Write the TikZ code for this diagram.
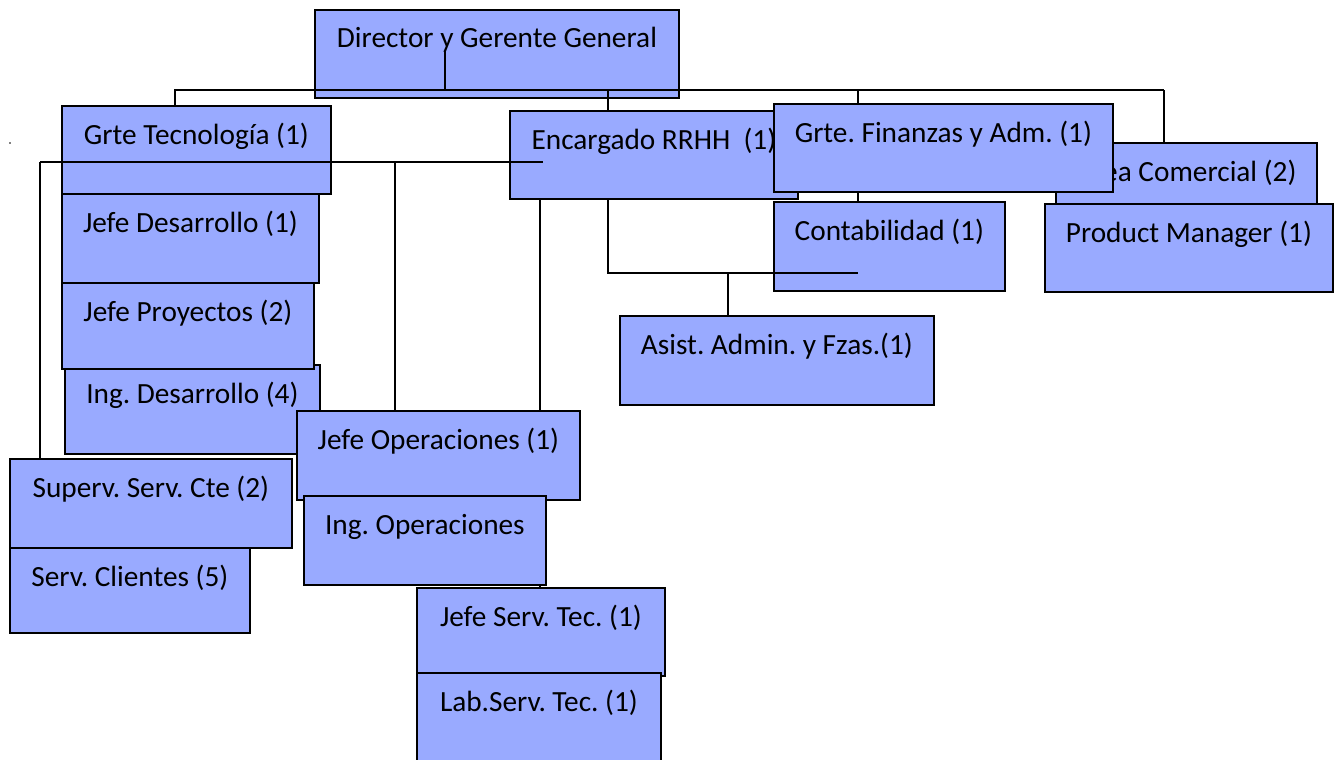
\documentclass[tikz,border=0pt]{standalone}
\usepackage{fontspec}
\setmainfont{Carlito}
\frenchspacing
\definecolor{boxfill}{RGB}{153,170,255}
\tikzset{
  box/.style={draw=black, line width=1.8pt, fill=boxfill, anchor=north west, inner sep=0pt},
  lbl/.style={font=\fontsize{29.3}{34}\selectfont, inner sep=0pt, anchor=base},
  wire/.style={line width=1.6pt, draw=black}
}
\newcommand{\orgbox}[6]{%
  \node[box, minimum width=#4pt, minimum height=#5pt] (#1) at (#2,#3) {};
  \node[lbl] (#1t) at ([yshift=-39pt]#1.north) {#6};
}
\begin{document}
\begin{tikzpicture}[x=1pt,y=-1pt]
\useasboundingbox (0,0) rectangle (1336,760);
\clip (0,0) rectangle (1336,760);
% boxes that lie under the connectors
\orgbox{dir}{314}{9}{364}{88}{Director y Gerente General}
\orgbox{gtec}{61}{105}{269}{88}{Grte Tecnología (1)}
\orgbox{rrhh}{509}{110}{288}{88}{Encargado RRHH\ \ (1)}
\orgbox{cont}{773}{201}{231}{89}{Contabilidad (1)}
% named junctions
\coordinate (dtop) at (445,50);
\coordinate (busL) at (175,90);
\coordinate (busR) at (1164,90);
\coordinate (bRR) at (608,90);
\coordinate (bGF) at (858,90);
\coordinate (tL) at (40,162);
\coordinate (tR) at (543,162);
\coordinate (tM) at (395,162);
\coordinate (rL) at (608,273);
\coordinate (rR) at (858,273);
\coordinate (rM) at (728,273);
\coordinate (xOp) at (540,0);
% connectors
\draw[wire] (dtop) -- (dtop |- busL);
\draw[wire] (gtec.north -| busL) -- (busL) -- (busR);
\draw[wire] (bRR) -- (rrhh.north -| bRR);
\draw[wire] (tL) -- (tR);
\draw[wire] (rrhh.south -| rL) -- (rL) -- (rR);
\draw[wire] (rM) -- (rM |- 0,315);
\draw[wire] (tM) -- (tM |- 0,410);
\draw[wire] (tL) -- (tL |- 0,458);
\draw[wire] (rrhh.south -| xOp) -- (xOp |- 0,587);
\draw[wire] (bGF) -- (bGF |- 0,201);
\draw[wire] (busR) -- (busR |- 0,142);
\fill (10,143) circle (0.8pt);
% boxes above the connectors
\orgbox{ides}{64}{364}{255}{89}{Ing. Desarrollo (4)}
\orgbox{jdes}{61}{193}{257}{89}{Jefe Desarrollo (1)}
\orgbox{jpro}{61}{282}{252}{86}{Jefe Proyectos (2)}
\orgbox{sup}{9}{458}{282}{89}{Superv. Serv. Cte (2)}
\orgbox{scli}{9}{547}{240}{85}{Serv. Clientes (5)}
\orgbox{jop}{296}{410}{283}{89}{Jefe Operaciones (1)}
\orgbox{iop}{303}{495}{242}{89}{Ing. Operaciones}
\orgbox{jst}{416}{587}{248}{88}{Jefe Serv. Tec. (1)}
\orgbox{lab}{416}{672}{244}{92}{Lab.Serv. Tec. (1)}
\orgbox{acom}{1055}{142}{261}{88}{Área Comercial (2)}
\orgbox{gfin}{773}{103}{339}{88}{Grte. Finanzas y Adm. (1)}
\orgbox{pm}{1044}{203}{288}{88}{Product Manager (1)}
\orgbox{asis}{619}{315}{314}{89}{Asist. Admin. y Fzas.(1)}
\end{tikzpicture}
\end{document}
